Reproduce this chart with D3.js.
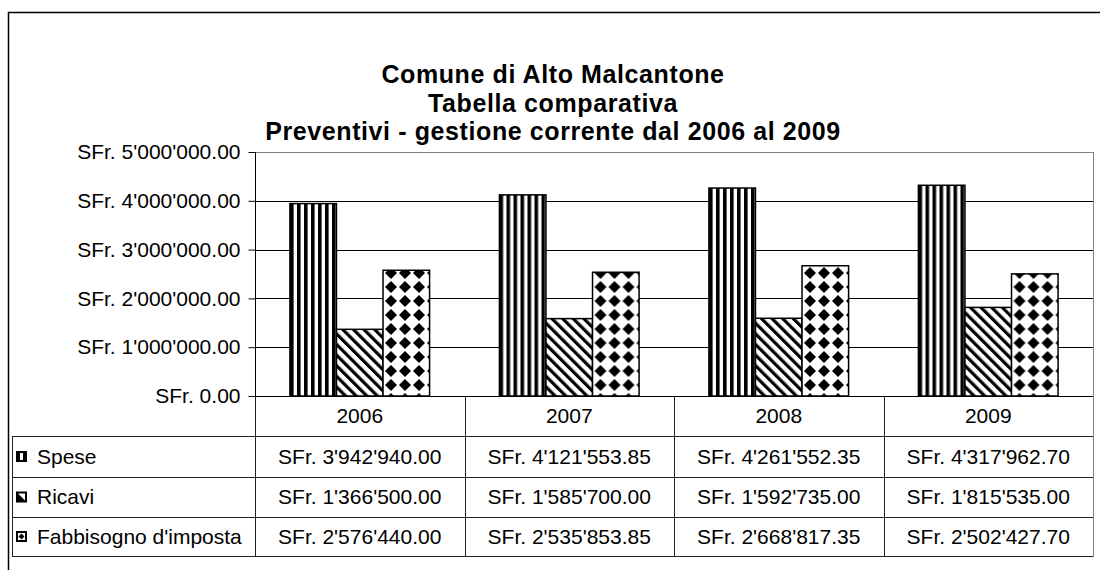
<!DOCTYPE html>
<html>
<head>
<meta charset="utf-8">
<script src="https://cdn.jsdelivr.net/npm/d3@7"></script>
<style>
  html, body { margin: 0; padding: 0; background: #fff; }
  svg { display: block; }
  text { font-family: "Liberation Sans", Arial, sans-serif; fill: #000; }
</style>
</head>
<body>
<svg id="chart" width="1100" height="570"></svg>
<script>
// ---- data ----
const titleLines = ["Comune di Alto Malcantone", "Tabella comparativa", "Preventivi - gestione corrente dal 2006 al 2009"];
const years = ["2006", "2007", "2008", "2009"];
const seriesNames = ["Spese", "Ricavi", "Fabbisogno d'imposta"];
const spese = [3942940.00, 4121553.85, 4261552.35, 4317962.70];
const ricavi = [1366500.00, 1585700.00, 1592735.00, 1815535.00];
const fabbisogno = [2576440.00, 2535853.85, 2668817.35, 2502427.70];
const yTicks = [0, 1000000, 2000000, 3000000, 4000000, 5000000];

const seriesValues = [spese, ricavi, fabbisogno];
const patternIds = ["pVert", "pDiag", "pDiam"];

const svg = d3.select("#chart");
const locale = d3.formatLocale({ decimal: ".", thousands: "'", grouping: [3], currency: ["", ""] });
const fmtNum = locale.format(",.2f");
const fmt = v => "SFr. " + fmtNum(v);

// ---- geometry ----
const plotL = 255, plotR = 1093, plotT = 152, plotB = 396;
const tableL = 12;
const rowLines = [436, 477, 517, 556];

// ---- patterns ----
const defs = svg.append("defs");
const pV = defs.append("pattern").attr("id", "pVert").attr("patternUnits", "userSpaceOnUse")
  .attr("width", 7).attr("height", 7);
pV.append("rect").attr("width", 7).attr("height", 7).attr("fill", "#fff");
pV.append("rect").attr("x", 0).attr("width", 3.6).attr("height", 7).attr("fill", "#000");

const pD = defs.append("pattern").attr("id", "pDiag").attr("patternUnits", "userSpaceOnUse")
  .attr("width", 7.5).attr("height", 7.5).attr("patternTransform", "rotate(-45)");
pD.append("rect").attr("width", 7.5).attr("height", 7.5).attr("fill", "#fff");
pD.append("rect").attr("x", 0).attr("width", 3.2).attr("height", 7.5).attr("fill", "#000");

const pM = defs.append("pattern").attr("id", "pDiam").attr("patternUnits", "userSpaceOnUse")
  .attr("width", 14).attr("height", 14).attr("x", 3).attr("y", 0);
pM.append("rect").attr("width", 14).attr("height", 14).attr("fill", "#fff");
pM.append("path").attr("d", "M7,1 L13,7 L7,13 L1,7 Z").attr("fill", "#000");

// ---- outer border ----
svg.append("rect").attr("x", 8.5).attr("y", 12.5).attr("width", 1100).attr("height", 570)
  .attr("fill", "none").attr("stroke", "#000").attr("stroke-width", 1.5);

// ---- title ----
const title = svg.append("text").attr("x", 553).attr("text-anchor", "middle")
  .style("font-weight", "bold").style("font-size", "25px").style("letter-spacing", "0.6px");
titleLines.forEach((t, i) => {
  title.append("tspan").attr("x", 553).attr("y", 83 + i * 28.5).text(t);
});

// ---- scales ----
const x0 = d3.scaleBand().domain(years).range([plotL, plotR]).paddingInner(0).paddingOuter(0);
const x1 = d3.scaleBand().domain(seriesNames).range([0, x0.bandwidth()]).paddingInner(0).paddingOuter(0.75);
const y = d3.scaleLinear().domain([0, 5000000]).range([plotB, plotT]);

// ---- gridlines ----
svg.append("g").selectAll("line").data(yTicks.slice(1)).join("line")
  .attr("x1", plotL).attr("x2", plotR)
  .attr("y1", d => Math.round(y(d)) + 0.5).attr("y2", d => Math.round(y(d)) + 0.5)
  .attr("stroke", "#000").attr("stroke-width", 1);

// plot border (grey)
svg.append("rect").attr("x", plotL + 0.5).attr("y", plotT + 0.5)
  .attr("width", plotR - plotL).attr("height", plotB - plotT)
  .attr("fill", "none").attr("stroke", "#808080").attr("stroke-width", 1);

// ---- y axis ----
const yAxis = d3.axisLeft(y).tickValues(yTicks).tickFormat(fmt).tickSize(7).tickPadding(8);
const gy = svg.append("g").attr("transform", `translate(${plotL + 0.5},0)`).call(yAxis);
gy.select(".domain").attr("stroke", "#000").attr("d", `M0,${plotT}V${plotB}`);
gy.selectAll(".tick line").attr("stroke", "#000");
gy.selectAll(".tick text").style("font-size", "21px").style("font-family", "Liberation Sans, Arial, sans-serif").attr("fill", "#000");

// ---- bars ----
const groups = svg.append("g").selectAll("g").data(years).join("g")
  .attr("transform", d => `translate(${x0(d)},0)`);
groups.selectAll("rect").data((d, i) => seriesNames.map((s, k) => ({ s, k, v: seriesValues[k][i] })))
  .join("rect")
  .attr("x", d => x1(d.s))
  .attr("y", d => y(d.v))
  .attr("width", x1.bandwidth())
  .attr("height", d => y(0) - y(d.v))
  .attr("fill", d => `url(#${patternIds[d.k]})`)
  .attr("stroke", "#000").attr("stroke-width", 1.5);

// ---- data table ----
const tbl = svg.append("g");
tbl.append("line").attr("x1", plotL).attr("x2", plotR).attr("y1", plotB + 0.5).attr("y2", plotB + 0.5)
  .attr("stroke", "#000").attr("stroke-width", 1.2);
tbl.selectAll("line.row").data(rowLines).join("line").attr("class", "row")
  .attr("x1", tableL).attr("x2", plotR)
  .attr("y1", d => d + 0.5).attr("y2", d => d + 0.5)
  .attr("stroke", "#222").attr("stroke-width", 1);
tbl.append("line").attr("x1", tableL + 0.5).attr("x2", tableL + 0.5)
  .attr("y1", rowLines[0]).attr("y2", rowLines[3] + 1).attr("stroke", "#222");
const divs = years.map(yr => x0(yr)).concat([plotR]);
tbl.selectAll("line.div").data(divs).join("line").attr("class", "div")
  .attr("x1", d => Math.round(d) + 0.5).attr("x2", d => Math.round(d) + 0.5)
  .attr("y1", plotB).attr("y2", rowLines[3] + 1)
  .attr("stroke", (d, i) => i === divs.length - 1 ? "#808080" : "#222");

// year labels
tbl.selectAll("text.year").data(years).join("text").attr("class", "year")
  .attr("x", d => x0(d) + x0.bandwidth() / 2).attr("y", (plotB + rowLines[0]) / 2)
  .attr("dy", "0.35em").attr("text-anchor", "middle").style("font-size", "21px").text(d => d);

// value cells + legend keys
seriesNames.forEach((s, k) => {
  const yc = (rowLines[k] + rowLines[k + 1]) / 2;
  tbl.append("g").selectAll("text").data(seriesValues[k]).join("text")
    .attr("x", (d, i) => x0(years[i]) + x0.bandwidth() / 2).attr("y", yc)
    .attr("dy", "0.35em").attr("text-anchor", "middle").style("font-size", "21px")
    .text(d => fmt(d));
  const kx = 16, ky = yc - 5.5;
  const key = tbl.append("g").attr("transform", `translate(${kx},${ky})`);
  key.append("rect").attr("width", 11).attr("height", 11).attr("fill", "#000");
  if (k === 0) {
    key.append("rect").attr("x", 4).attr("y", 2).attr("width", 3).attr("height", 7).attr("fill", "#fff");
  } else if (k === 1) {
    key.append("path").attr("d", "M2,2 L9,2 L9,9 Z").attr("fill", "#fff");
  } else {
    key.append("rect").attr("x", 2).attr("y", 2).attr("width", 7).attr("height", 7).attr("fill", "#fff");
    key.append("path").attr("d", "M5.5,2.5 L8.5,5.5 L5.5,8.5 L2.5,5.5 Z").attr("fill", "#000");
  }
  tbl.append("text").attr("x", 37).attr("y", yc).attr("dy", "0.35em")
    .style("font-size", "21px").text(s);
});
</script>
</body>
</html>
